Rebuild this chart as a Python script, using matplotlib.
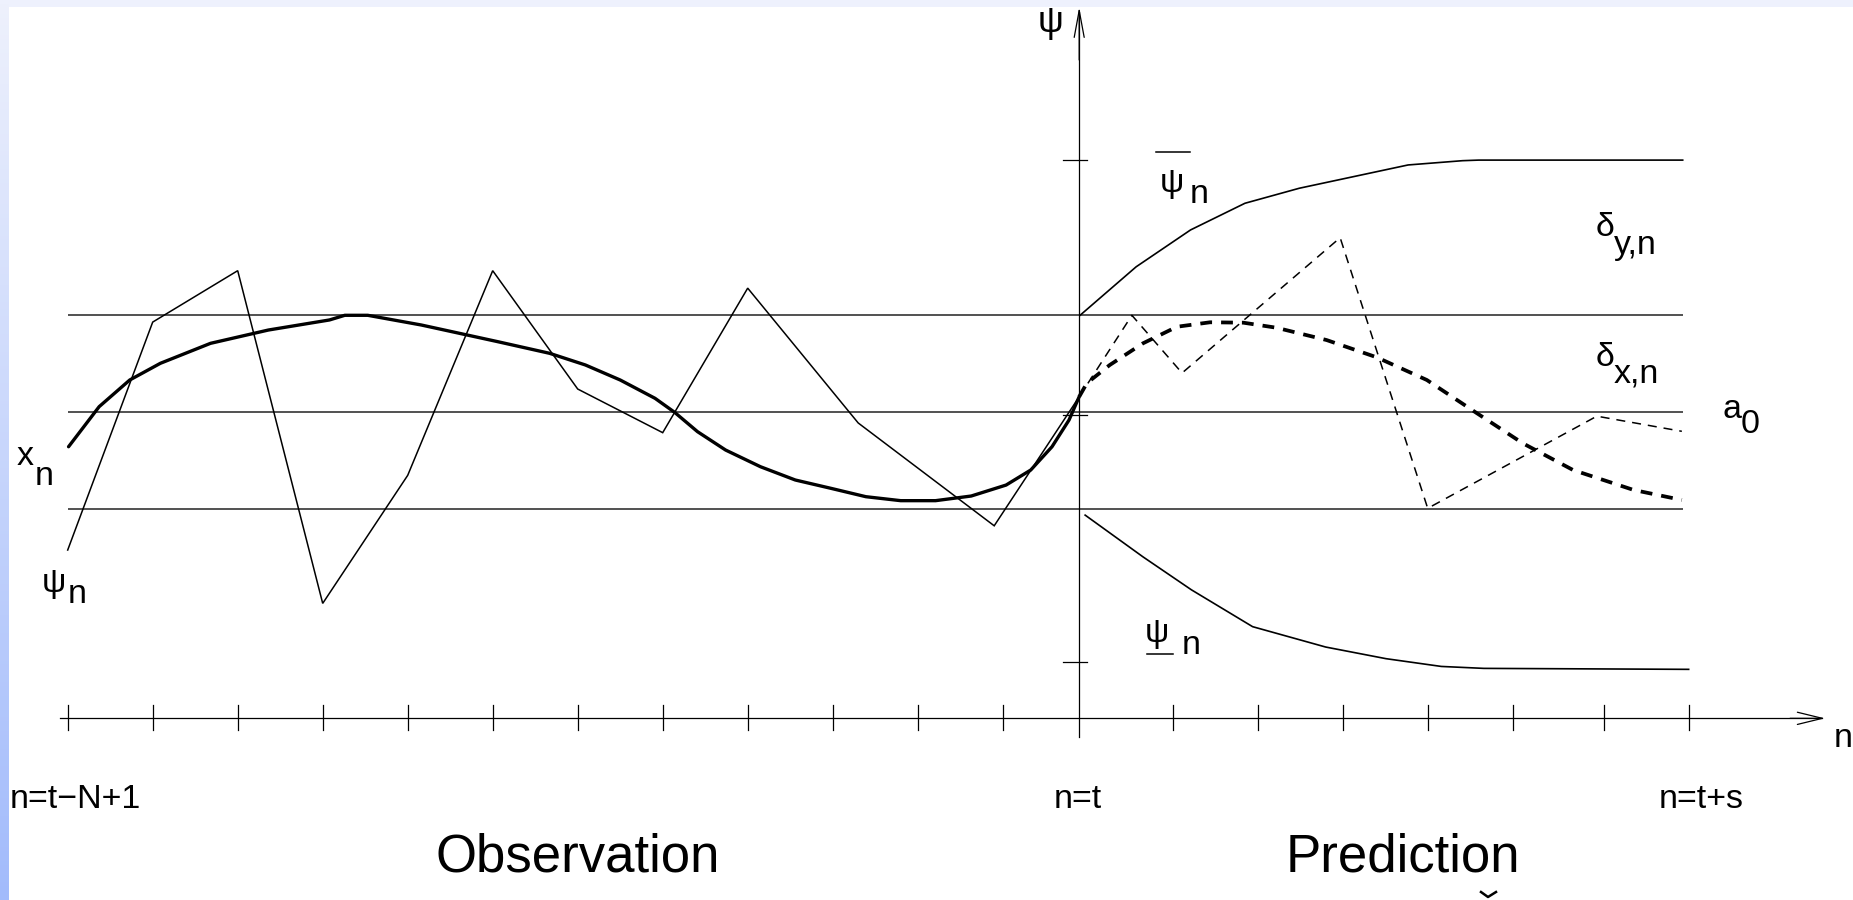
import numpy as np
import matplotlib
matplotlib.use("Agg")
import matplotlib.pyplot as plt
from matplotlib.patches import Rectangle

plt.rcParams['font.family'] = ['Liberation Sans', 'DejaVu Sans']
plt.rcParams['lines.scale_dashes'] = False

# ---------------- data (n = time index in tick units, psi = value, a0 = 0) -------------
# observed series psi_n (thin zig-zag)
obs_n   = [0.0, 1.0, 2.0, 3.0, 4.0, 5.0, 6.0, 7.0, 8.0, 9.3, 10.9, 11.9]
obs_psi = [-1.42, 0.93, 1.46, -1.97, -0.65, 1.46, 0.24, -0.21, 1.28, -0.11, -1.17, 0.16]

# smooth trend x_n (thick solid)
trend_n   = [0.01, 0.37, 0.73, 1.09, 1.68, 2.36, 3.08, 3.26, 3.53, 4.16, 5.06, 5.67, 6.09,
             6.50, 6.91, 7.14, 7.41, 7.74, 8.15, 8.56, 8.98, 9.39, 9.80, 10.21, 10.63,
             11.04, 11.33, 11.58, 11.78, 11.90]
trend_psi = [-0.355, 0.058, 0.333, 0.505, 0.711, 0.848, 0.952, 1.0, 1.0, 0.90, 0.728, 0.608,
             0.488, 0.333, 0.144, 0.0, -0.2, -0.389, -0.561, -0.698, -0.784, -0.87, -0.911,
             -0.911, -0.863, -0.75, -0.595, -0.355, -0.08, 0.161]

# predicted trend delta_x,n (thick dashed)
pred_n   = [11.90, 11.99, 12.26, 12.65, 13.05, 13.44, 13.83, 14.22, 14.81, 15.40, 15.99,
            16.58, 17.12, 17.71, 18.42, 18.99]
pred_psi = [0.161, 0.30, 0.488, 0.711, 0.882, 0.928, 0.924, 0.872, 0.745, 0.567, 0.333,
            -0.01, -0.32, -0.595, -0.80, -0.904]

# predicted series delta_y,n (thin dashed zig-zag)
predy_n   = [11.90, 12.52, 13.11, 14.97, 16.0, 17.99, 18.99]
predy_psi = [0.16, 1.0, 0.405, 1.80, -0.99, -0.04, -0.196]

# upper bound psi-bar_n
up_n   = [11.91, 12.57, 13.21, 13.85, 14.49, 15.13, 15.77, 16.41, 16.6, 19.0]
up_psi = [1.0, 1.50, 1.88, 2.155, 2.31, 2.43, 2.55, 2.594, 2.60, 2.60]

# lower bound psi_n (underlined)
lo_n   = [11.97, 12.65, 13.22, 13.94, 14.80, 15.51, 16.16, 16.66, 19.07]
lo_psi = [-1.06, -1.49, -1.83, -2.21, -2.42, -2.54, -2.62, -2.64, -2.65]

# reference levels
ref_levels = [1.0, 0.0, -1.0]
ref_span = [0.0, 19.0]

# axes
n_t = 11.9                      # position of n = t (psi axis)
tick_n = [0, 1, 2, 3, 4, 5, 6, 7, 8, 9, 10, 11, 13, 14, 15, 16, 17, 18.08, 19.08]
psi_ticks = [2.6, -0.03, -2.57]
x_axis_psi = -3.155

# ---------------- figure ----------------
W, H = 1853, 900
fig = plt.figure(figsize=(W / 100, H / 100), dpi=100, facecolor='white')
ax = fig.add_axes([0, 0, 1, 1])
ax.set_xlim((0 - 67.7) / 85, (W - 67.7) / 85)
ax.set_ylim((412.3 - H) / 97, 412.3 / 97)
ax.axis('off')

def pn(x):   # pixel -> n
    return (x - 67.7) / 85

def pp(y):   # pixel -> psi
    return (412.3 - y) / 97

# background frame (top band + left gradient strip)
fig.add_artist(Rectangle((0, 1 - 7 / H), 1, 7 / H, transform=fig.transFigure,
                         facecolor='#EEF1FD', edgecolor='none', zorder=0))
gax = fig.add_axes([0, 0, 9 / W, 1])
grad = np.linspace(0, 1, 256).reshape(-1, 1)
top = np.array([0xEE, 0xF1, 0xFD]) / 255
bot = np.array([0xA2, 0xBB, 0xFB]) / 255
img = top[None, None, :] * (1 - grad[..., None]) + bot[None, None, :] * grad[..., None]
gax.imshow(img, aspect='auto', extent=[0, 1, 1, 0])
gax.axis('off')

line_col = '#333333'
# reference lines
for lv in ref_levels:
    ax.plot(ref_span, [lv, lv], color=line_col, lw=1.2, solid_capstyle='butt')

# x axis with ticks and arrow
ax.plot([pn(59.7), pn(1822)], [x_axis_psi, x_axis_psi], color='black', lw=0.9)
ax.annotate('', xy=(pn(1825), x_axis_psi), xytext=(pn(1790), x_axis_psi),
            arrowprops=dict(arrowstyle='->,head_length=0.9,head_width=0.22',
                            lw=0.9, color='black', shrinkA=0, shrinkB=0,
                            mutation_scale=20))
for t in tick_n:
    ax.plot([t, t], [pp(705), pp(730)], color='black', lw=0.9)

# psi axis with arrow and ticks
ax.plot([n_t, n_t], [pp(737), pp(12)], color='black', lw=0.9)
ax.annotate('', xy=(n_t, pp(7)), xytext=(n_t, pp(60)),
            arrowprops=dict(arrowstyle='->,head_length=0.97,head_width=0.18',
                            lw=0.9, color='black', shrinkA=0, shrinkB=0,
                            mutation_scale=20))
for v in psi_ticks:
    ax.plot([pn(1062.7), pn(1087.3)], [v, v], color='black', lw=0.9)

# series
ax.plot(obs_n, obs_psi, color='black', lw=1.1, solid_joinstyle='miter')
ax.plot(trend_n, trend_psi, color='black', lw=2.4, solid_capstyle='round',
        solid_joinstyle='round')
ax.plot(up_n, up_psi, color='black', lw=1.2, solid_joinstyle='round')
ax.plot(lo_n, lo_psi, color='black', lw=1.2, solid_joinstyle='round')
ax.plot(predy_n, predy_psi, color='black', lw=1.1, linestyle=(0, (6.5, 5.0)))
ax.plot(pred_n, pred_psi, color='black', lw=2.7, linestyle=(0, (8.5, 6.5)))

# ---------------- labels ----------------
fs = 24.5
def txt(xp, yp, s, size=fs, **kw):
    ax.text(pn(xp), pp(yp), s, fontsize=size, ha='left', va='baseline',
            color='black', **kw)

txt(1038, 32, 'ψ', size=26)
# x_n
txt(17, 465, 'x'); txt(35, 485, 'n')
# psi_n (observed)
txt(42, 592, 'ψ'); txt(68, 603, 'n')
# upper bound
ax.plot([pn(1155.7), pn(1190)], [pp(151.7), pp(151.7)], color='black', lw=1.1)
txt(1160, 192, 'ψ'); txt(1190, 203, 'n')
# lower bound
txt(1145, 642, 'ψ')
ax.plot([pn(1147), pn(1173)], [pp(654), pp(654)], color='black', lw=1.1)
txt(1182, 654, 'n')
# deltas
txt(1596, 236, 'δ'); txt(1614, 254, 'y,n')
txt(1596, 366, 'δ'); txt(1614, 383, 'x,n')
# a0
txt(1723, 418, 'a'); txt(1741, 433, '0')
# axis labels
txt(1834, 747, 'n')
txt(10, 808, 'n=t\u2212N+1')
txt(1054, 808, 'n=t')
txt(1659, 808, 'n=t+s')
txt(436, 872, 'Observation', size=38)
txt(1286, 872, 'Prediction', size=38)
# fragment of a cut-off glyph at the bottom edge
ax.plot([pn(1481), pn(1488), pn(1496)], [pp(892), pp(897), pp(892)],
        color='black', lw=1.8)

fig.savefig('out.png', dpi=100, facecolor='white')
